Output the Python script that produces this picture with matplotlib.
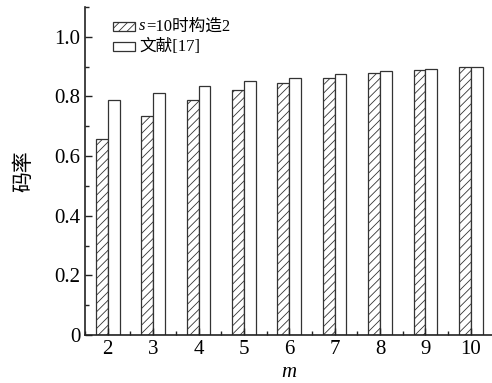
import numpy as np
import matplotlib
matplotlib.use("Agg")
import matplotlib.pyplot as plt
from matplotlib.ticker import MultipleLocator, FuncFormatter
from matplotlib.offsetbox import (AnchoredOffsetbox, DrawingArea, HPacker,
                                  TextArea, VPacker)
from matplotlib.patches import Rectangle

fams = ['Liberation Serif', 'Noto Sans CJK SC']
plt.rcParams['font.family'] = fams
plt.rcParams['hatch.color'] = '#777777'
plt.rcParams['hatch.linewidth'] = 0.6

m = [2, 3, 4, 5, 6, 7, 8, 9, 10]
construct2 = [0.656, 0.736, 0.787, 0.821, 0.845, 0.863, 0.879, 0.890, 0.899]
ref17 = [0.787, 0.813, 0.834, 0.851, 0.863, 0.875, 0.884, 0.892, 0.900]

fig = plt.figure(figsize=(4.92, 3.83), dpi=100)
ax = fig.add_axes([0.173, 0.125, 0.83, 0.857])

x = np.array(m)
w = 0.26
ax.bar(x - w/2, construct2, w, facecolor='white', edgecolor='#333333',
       hatch='////', linewidth=0.9)
ax.bar(x + w/2, ref17, w, facecolor='white', edgecolor='#333333',
       linewidth=0.9)

ax.set_xlim(1.5, 10.5)
ax.set_ylim(0, 1.1)
ax.set_xticks(m)
ax.xaxis.set_minor_locator(MultipleLocator(0.5))
ax.set_yticks([0, 0.2, 0.4, 0.6, 0.8, 1.0])
ax.yaxis.set_minor_locator(MultipleLocator(0.1))
ax.yaxis.set_major_formatter(FuncFormatter(lambda v, p: "0" if abs(v) < 1e-9 else "%.1f" % v))
ax.tick_params(which='both', direction='in', labelsize=15, width=1.0, color='#222222')
ax.tick_params(which='major', length=5)
ax.tick_params(which='minor', length=3)

for s in ['top', 'right']:
    ax.spines[s].set_visible(False)
for s in ['left', 'bottom']:
    ax.spines[s].set_linewidth(1.2)
    ax.spines[s].set_color('#222222')

ax.set_xlabel("m", fontsize=15, style='italic', labelpad=3)
ax.set_ylabel("码率", fontsize=15, labelpad=14)


# legend built by hand so that "s" can be italic next to Chinese text
def handle(hatch):
    da = DrawingArea(16, 6.5, 0, 0)
    da.add_artist(Rectangle((0, 0), 16, 6.5, facecolor='white', edgecolor='#333333',
                            hatch=hatch, linewidth=0.9))
    return da


tp = dict(fontsize=12, family=fams)
row1 = HPacker(children=[handle('////'),
                         HPacker(children=[TextArea("s", textprops=dict(fontsize=12, family='Liberation Serif', style='italic')),
                                           TextArea("=10时构造2", textprops=tp)],
                                 pad=0, sep=0.5, align='baseline')],
               pad=0, sep=3, align='center')
row2 = HPacker(children=[handle(None), TextArea("文献[17]", textprops=tp)],
               pad=0, sep=3, align='center')
box = VPacker(children=[row1, row2], pad=0, sep=3, align='left')
anch = AnchoredOffsetbox(loc='upper left', child=box, frameon=False,
                         bbox_to_anchor=(0.068, 0.965), bbox_transform=ax.transAxes,
                         borderpad=0, pad=0)
ax.add_artist(anch)

fig.savefig("out.png", dpi=100)
